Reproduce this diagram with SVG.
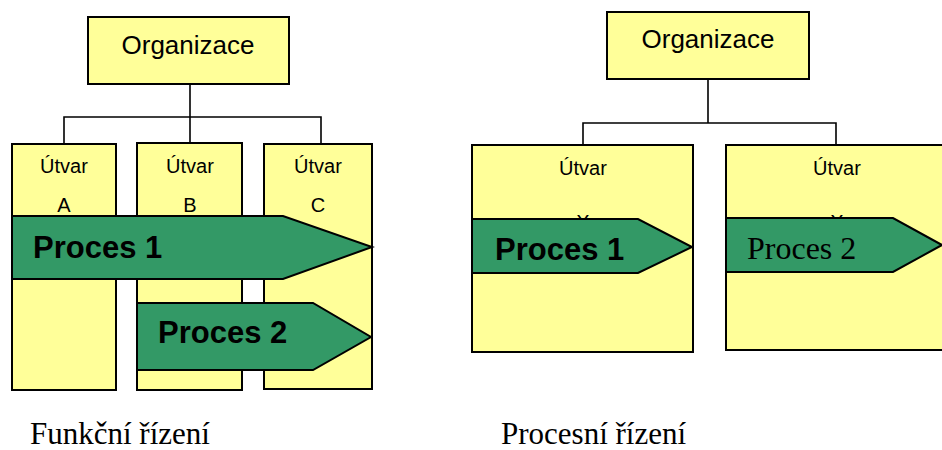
<svg xmlns="http://www.w3.org/2000/svg" width="942" height="450" viewBox="0 0 942 450">
  <style>
    .box { fill: #FFFF99; stroke: #000; stroke-width: 2; }
    .proc { fill: #339966; stroke: #000; stroke-width: 2; stroke-linejoin: miter; }
    .line { fill: none; stroke: #000; stroke-width: 1.6; }
    .org { font-family: "Liberation Sans", Arial, sans-serif; font-size: 26px; fill: #000; text-anchor: middle; }
    .unit { font-family: "Liberation Sans", Arial, sans-serif; font-size: 20px; fill: #000; text-anchor: middle; }
    .ptxt { font-family: "Liberation Sans", Arial, sans-serif; font-size: 31px; font-weight: bold; fill: #000; }
    .ptxt-serif { font-family: "Liberation Serif", "Times New Roman", serif; font-size: 32px; fill: #000; }
    .caption { font-family: "Liberation Serif", "Times New Roman", serif; font-size: 31px; fill: #000; }
  </style>

  <rect width="942" height="450" fill="#fff"/>

  <!-- org-chart connectors -->
  <g id="connectors">
    <path class="line" d="M190 84 V117 M64 144 V117 H321 V144 M190 117 V143"/>
    <path class="line" d="M708 79 V123 M583 145 V123 H836 V145"/>
  </g>

  <!-- functional management (left) -->
  <g id="org-left">
    <rect class="box" x="88" y="17" width="201" height="67"/>
    <text class="org" x="188" y="54">Organizace</text>
  </g>
  <g id="unit-a">
    <rect class="box" x="12" y="144" width="104" height="246"/>
    <text class="unit" x="64" y="173">Útvar</text>
    <text class="unit" x="64" y="212">A</text>
  </g>
  <g id="unit-b">
    <rect class="box" x="137" y="143" width="105" height="247"/>
    <text class="unit" x="190" y="173">Útvar</text>
    <text class="unit" x="190" y="212">B</text>
  </g>
  <g id="unit-c">
    <rect class="box" x="264" y="144" width="108" height="245"/>
    <text class="unit" x="318" y="173">Útvar</text>
    <text class="unit" x="318" y="212">C</text>
  </g>
  <g id="process-1-left">
    <polygon class="proc" points="12,216 283,216 372,247 283,279 12,279"/>
    <text class="ptxt" x="33" y="258">Proces 1</text>
  </g>
  <g id="process-2-left">
    <polygon class="proc" points="137,303 313,303 371,337 313,370 137,370"/>
    <text class="ptxt" x="158" y="343">Proces 2</text>
  </g>
  <text class="caption" x="30" y="444">Funkční řízení</text>

  <!-- process management (right) -->
  <g id="org-right">
    <rect class="box" x="607" y="12" width="202" height="67"/>
    <text class="org" x="708" y="48">Organizace</text>
  </g>
  <g id="unit-x1">
    <rect class="box" x="472" y="145" width="221" height="207"/>
    <text class="unit" x="583" y="175">Útvar</text>
    <text class="unit" x="583" y="229">X</text>
  </g>
  <g id="unit-x2">
    <rect class="box" x="726" y="145" width="222" height="205"/>
    <text class="unit" x="837" y="175">Útvar</text>
    <text class="unit" x="837" y="229">X</text>
  </g>
  <g id="process-1-right">
    <polygon class="proc" points="472,219 638,219 692,247 638,273 472,273"/>
    <text class="ptxt" x="495" y="260">Proces 1</text>
  </g>
  <g id="process-2-right">
    <polygon class="proc" points="726,218 893,218 942,245 893,272 726,272"/>
    <text class="ptxt-serif" x="747" y="259">Proces 2</text>
  </g>
  <text class="caption" x="501" y="444">Procesní řízení</text>
</svg>
